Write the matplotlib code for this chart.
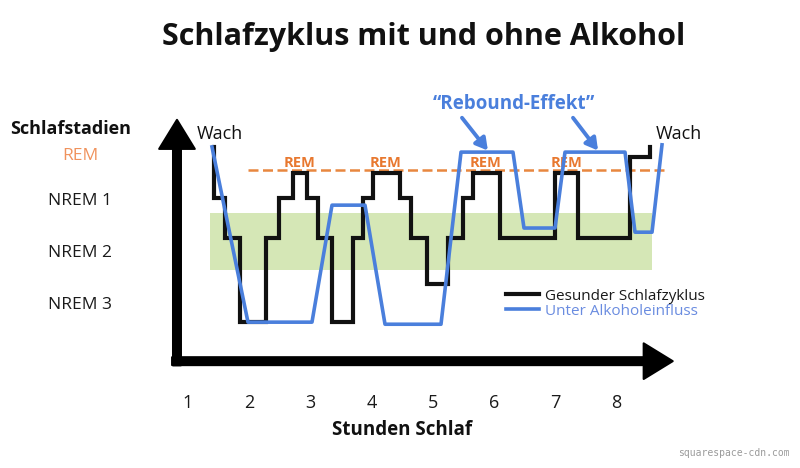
import matplotlib.pyplot as plt
from matplotlib.transforms import blended_transform_factory

# stages on the y axis (depth: 0 = awake, larger = deeper sleep)
stage_names = ['REM', 'NREM 1', 'NREM 2', 'NREM 3']
stage_depth = [0.13, 1.0, 2.0, 3.0]
stage_colors = ['#f0925c', '#1a1a1a', '#1a1a1a', '#1a1a1a']

hour_ticks = [1, 2, 3, 4, 5, 6, 7, 8]

# healthy sleep cycle (step curve)
healthy_hours = [1.425, 1.425, 1.605, 1.850, 2.275, 2.487, 2.716, 2.944, 3.124, 3.353,
                 3.696, 3.859, 4.023, 4.464, 4.644, 4.905, 5.248, 5.493, 5.657, 6.098,
                 6.997, 7.373, 8.222, 8.549]
healthy_depth = [-0.04, 0.94, 1.71, 3.33, 1.71, 0.94, 0.46, 0.94, 1.71, 3.33,
                 1.71, 0.94, 0.46, 0.94, 1.71, 2.60, 1.71, 0.94, 0.46, 1.71,
                 0.46, 1.71, 0.15, -0.04]

# sleep under alcohol
alcohol_hours = [1.392, 1.980, 3.026, 3.353, 3.892, 4.219, 5.134, 5.461,
                 6.310, 6.490, 6.997, 7.160, 8.141, 8.304, 8.582, 8.745]
alcohol_depth = [-0.04, 3.33, 3.33, 1.08, 1.08, 3.37, 3.37, 0.06,
                 0.06, 1.52, 1.52, 0.06, 0.06, 1.60, 1.60, -0.08]

# green NREM 2 band and REM reference line
band_hours = [1.36, 8.58]
band_depth = [1.23, 2.33]
rem_line_hours = [1.98, 8.83]
rem_line_depth = 0.40
rem_label_hours = [2.83, 4.235, 5.87, 7.18]
rem_label_depth = 0.26

rebound_arrows = [((5.477, -0.60), (5.90, 0.03)), ((7.291, -0.60), (7.70, 0.03))]

plt.rcParams['font.family'] = ['Open Sans', 'DejaVu Sans']

fig = plt.figure(figsize=(8.0, 4.68), dpi=100)
ax = fig.add_axes([0.2, 1 - 370 / 468, 0.675, 270 / 468])
ax.set_xlim(0.5425, 9.366)
ax.set_ylim(4.25, -0.942)

#green band
ax.fill_between(band_hours, band_depth[0], band_depth[1], color='#d5e7b6', linewidth=0, zorder=1)

#dashed REM line
ax.plot(rem_line_hours, [rem_line_depth] * 2, color='#e8873f', linewidth=1.8,
        dashes=(4, 1.8), zorder=2)
for h in rem_label_hours:
    ax.text(h, rem_label_depth, 'REM', color='#e8782f', fontsize=10.5, fontweight='bold',
            ha='center', va='center', zorder=2)

#curves
line_h, = ax.plot(healthy_hours, healthy_depth, drawstyle='steps-post', color='#111111',
                  linewidth=3.0, solid_joinstyle='miter', zorder=3)
line_a, = ax.plot(alcohol_hours, alcohol_depth, color='#4a7fdc', linewidth=2.6, zorder=4)

#axis arrows
arrow_style = "simple,head_length=1.1,head_width=1.35,tail_width=0.3"
ax.annotate('', xy=(0.82, -0.56), xytext=(0.82, 4.16), xycoords='data',
            arrowprops=dict(arrowstyle=arrow_style, color='black', mutation_scale=19,
                            shrinkA=0, shrinkB=0, joinstyle='round', linewidth=1.5),
            annotation_clip=False)
ax.annotate('', xy=(8.92, 4.08), xytext=(0.74, 4.08), xycoords='data',
            arrowprops=dict(arrowstyle=arrow_style, color='black', mutation_scale=19,
                            shrinkA=0, shrinkB=0, joinstyle='round', linewidth=1.5),
            annotation_clip=False)

#Wach labels
ax.text(1.147, -0.29, 'Wach', fontsize=13, ha='left', va='center', color='#111111')
ax.text(8.647, -0.29, 'Wach', fontsize=13, ha='left', va='center', color='#111111')

#Rebound annotation
ax.text(6.33, -0.86, '\u201cRebound-Effekt\u201d', fontsize=13.5, fontweight='bold',
        color='#4a7fdc', ha='center', va='center')
for start, end in rebound_arrows:
    ax.annotate('', xy=end, xytext=start,
                arrowprops=dict(arrowstyle='-|>,head_length=0.7,head_width=0.4',
                                color='#4a7fdc', linewidth=2.8, shrinkA=0, shrinkB=0))

#stage labels
trans = blended_transform_factory(fig.transFigure, ax.transData)
for name, d, c in zip(stage_names, stage_depth, stage_colors):
    ax.text(80 / 800, d, name, transform=trans, fontsize=12.5, color=c,
            ha='center', va='center')
fig.text(10 / 800, 1 - 129 / 468, 'Schlafstadien', fontsize=13, fontweight='bold',
         ha='left', va='center', color='#111111')

#ticks
ax.set_xticks(hour_ticks)
ax.set_xticklabels([str(h) for h in hour_ticks], fontsize=13, color='#1a1a1a')
ax.tick_params(axis='x', length=0, pad=17)
ax.set_yticks([])
for s in ax.spines.values():
    s.set_visible(False)

#legend
ax.legend([line_h, line_a], ['Gesunder Schlafzyklus', 'Unter Alkoholeinfluss'],
          loc='upper left', bbox_to_anchor=(498 / 800, 1 - 281 / 468),
          bbox_transform=fig.transFigure, frameon=False, fontsize=11,
          handlelength=2.2, handletextpad=0.35, labelspacing=0.0, borderpad=0,
          labelcolor=['#1a1a1a', '#6a8ce0'])

#titles
fig.text(424 / 800, 1 - 37 / 468, 'Schlafzyklus mit und ohne Alkohol', fontsize=22,
         fontweight='bold', ha='center', va='center', color='#111111')
fig.text(402 / 800, 1 - 430 / 468, 'Stunden Schlaf', fontsize=13.5, fontweight='bold',
         ha='center', va='center', color='#111111')
fig.text(790 / 800, 1 - 453 / 468, 'squarespace-cdn.com', fontsize=7, color='#9a9a9a',
         family='DejaVu Sans Mono', ha='right', va='center')

plt.savefig('out.png', dpi=100)
